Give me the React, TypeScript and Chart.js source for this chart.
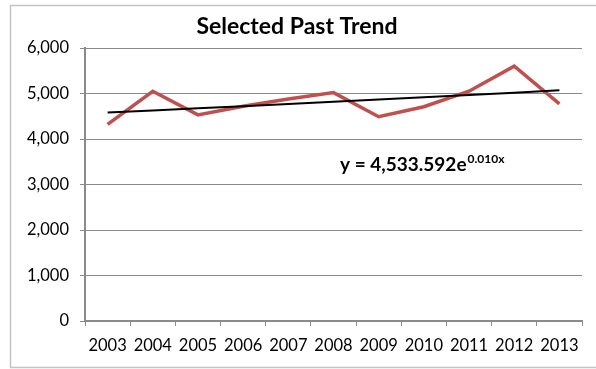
import React, { useEffect, useRef } from "react";
import { Chart, registerables } from "chart.js";

Chart.register(...registerables);

const YEARS = ["2003", "2004", "2005", "2006", "2007", "2008", "2009", "2010", "2011", "2012", "2013"];
const SERIES_VALUES = [4320, 5050, 4530, 4720, 4880, 5020, 4490, 4710, 5050, 5600, 4770];
const TREND_VALUES = [4580, 4627, 4674, 4721, 4769, 4817, 4866, 4915, 4965, 5015, 5070];
const TITLE = "Selected Past Trend";
const EQ_MAIN = "y = 4,533.592e";
const EQ_SUP = "0.010x";
const Y_MIN = 0;
const Y_MAX = 6000;
const Y_STEP = 1000;

const FONT = "Lato, 'Open Sans', sans-serif";
const GRID = "#8a8a8a";

const decorPlugin = {
  id: "decor",
  afterDraw(chart: any) {
    const ctx = chart.ctx;
    const ca = chart.chartArea;
    ctx.save();
    // outer frame
    ctx.strokeStyle = "#c4c4c4";
    ctx.lineWidth = 1.5;
    ctx.beginPath();
    ctx.moveTo(700, 5.5);
    ctx.lineTo(10.5, 5.5);
    ctx.lineTo(10.5, 367.5);
    ctx.lineTo(700, 367.5);
    ctx.stroke();
    // title
    ctx.fillStyle = "#000";
    ctx.textAlign = "center";
    ctx.textBaseline = "alphabetic";
    ctx.font = `bold 23px ${FONT}`;
    ctx.fillText(TITLE, 297, 33.5);
    // trend equation
    const x0 = ca.left + 255;
    const base = ca.top + 123;
    ctx.textAlign = "left";
    ctx.font = `bold 19px ${FONT}`;
    ctx.fillText(EQ_MAIN, x0, base);
    const w = ctx.measureText(EQ_MAIN).width;
    ctx.font = `bold 12px ${FONT}`;
    ctx.fillText(EQ_SUP, x0 + w + 1, base - 8);
    ctx.restore();
  },
};

export default function App() {
  const ref = useRef<HTMLCanvasElement | null>(null);
  useEffect(() => {
    if (!ref.current) return;
    const chart = new Chart(ref.current, {
      type: "line",
      data: {
        labels: YEARS,
        datasets: [
          {
            label: "Trend",
            data: TREND_VALUES,
            borderColor: "#000000",
            borderWidth: 2,
            pointRadius: 0,
            tension: 0,
            fill: false,
          },
          {
            label: "Series",
            data: SERIES_VALUES,
            borderColor: "#C0504D",
            borderWidth: 3.5,
            pointRadius: 0,
            tension: 0,
            fill: false,
          },
        ],
      },
      options: {
        animation: false,
        responsive: false,
        devicePixelRatio: 1,
        layout: { padding: { left: 0, right: 14, top: 48, bottom: 0 } },
        plugins: {
          legend: { display: false },
          tooltip: { enabled: false },
          title: { display: false },
        },
        scales: {
          x: {
            offset: true,
            grid: {
              display: true,
              offset: true,
              drawOnChartArea: false,
              drawTicks: true,
              tickLength: 5,
              color: GRID,
              lineWidth: 1,
            },
            border: { display: true, color: GRID, width: 2 },
            ticks: {
              color: "#000",
              font: { family: FONT, size: 16.5 },
              padding: 10,
              maxRotation: 0,
              autoSkip: false,
            },
            afterFit(scale: any) {
              scale.height = 48;
            },
          },
          y: {
            min: Y_MIN,
            max: Y_MAX,
            ticks: {
              stepSize: Y_STEP,
              color: "#000",
              font: { family: FONT, size: 16.5 },
              padding: 11,
            },
            grid: {
              color: GRID,
              lineWidth: 1,
              drawTicks: true,
              tickLength: 5,
            },
            border: { display: true, color: GRID, width: 2 },
            afterFit(scale: any) {
              scale.width = 85;
            },
          },
        },
      },
      plugins: [decorPlugin],
    });
    return () => chart.destroy();
  }, []);
  return (
    <div style={{ position: "absolute", left: 0, top: 0, width: 596, height: 369, background: "#fff" }}>
      <canvas ref={ref} width={596} height={369} />
    </div>
  );
}
